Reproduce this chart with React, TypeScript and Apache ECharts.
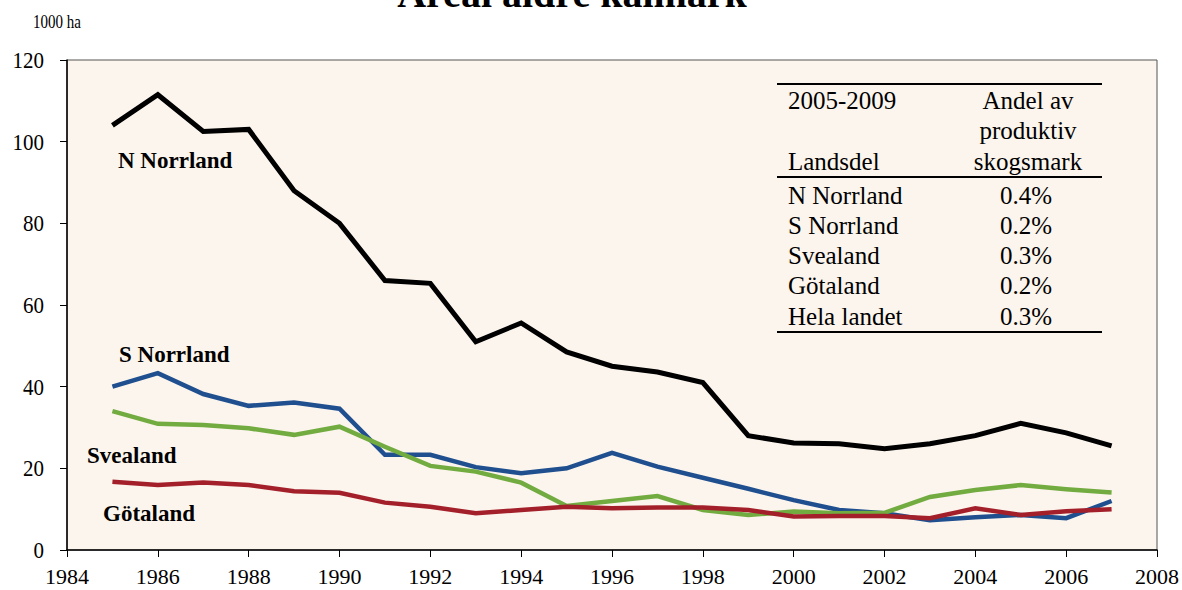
import React, { useEffect, useRef } from "react";
import * as echarts from "echarts";

const years = [1985, 1986, 1987, 1988, 1989, 1990, 1991, 1992, 1993, 1994, 1995, 1996, 1997, 1998, 1999, 2000, 2001, 2002, 2003, 2004, 2005, 2006, 2007];
const nNorrland = [104, 111.5, 102.5, 103, 88, 80, 66, 65.3, 51, 55.6, 48.5, 45, 43.6, 41, 28, 26.2, 26, 24.8, 26, 28, 31, 28.7, 25.5];
const sNorrland = [40, 43.3, 38.2, 35.3, 36.1, 34.6, 23.3, 23.3, 20.3, 18.8, 20, 23.8, 20.4, 17.7, 15, 12.2, 9.8, 9, 7.3, 8, 8.6, 7.8, 12];
const svealand = [34, 30.9, 30.6, 29.8, 28.2, 30.2, 25.3, 20.6, 19.2, 16.5, 10.8, 12, 13.2, 9.8, 8.6, 9.4, 9, 9.1, 13, 14.7, 15.9, 14.9, 14.1];
const gotaland = [16.7, 15.9, 16.5, 15.9, 14.4, 14, 11.6, 10.6, 9, 9.8, 10.6, 10.2, 10.4, 10.4, 9.8, 8.2, 8.3, 8.3, 7.8, 10.2, 8.6, 9.5, 10];

const xTickLabels = [1984, 1986, 1988, 1990, 1992, 1994, 1996, 1998, 2000, 2002, 2004, 2006, 2008];
const yTickLabels = [0, 20, 40, 60, 80, 100, 120];

const seriesNames = ["N Norrland", "S Norrland", "Svealand", "Götaland"];
const seriesColors = ["#000000", "#1f4f8f", "#72ab40", "#a3202b"];
const seriesWidths = [5, 4.5, 4.5, 4.5];

const tableHeaderLeft = ["2005-2009", "Landsdel"];
const tableHeaderRight = ["Andel av", "produktiv", "skogsmark"];
const tableRegions = ["N Norrland", "S Norrland", "Svealand", "Götaland", "Hela landet"];
const tableShares = ["0.4%", "0.2%", "0.3%", "0.2%", "0.3%"];

const title = "Areal äldre kalmark";
const unitLabel = "1000 ha";

const FF = "Liberation Serif";

export default function App() {
  const ref = useRef<HTMLDivElement>(null);
  useEffect(() => {
    if (!ref.current) return;
    const chart = echarts.init(ref.current, null, { renderer: "svg" });
    const allSeries = [nNorrland, sNorrland, svealand, gotaland];

    const labelPos = [
      { x: 118, y: 160 },
      { x: 119, y: 354 },
      { x: 87, y: 455 },
      { x: 103, y: 513 },
    ];

    const txt = (text: string, x: number, y: number, size: number, align: string, bold = false, scaleY = 1) => ({
      type: "text",
      x,
      y,
      z: 100,
      scaleY,
      style: {
        text,
        fontFamily: FF,
        fontSize: size,
        fontWeight: bold ? "bold" : "normal",
        fill: "#000",
        align,
        verticalAlign: "middle",
      },
    });

    const graphics: any[] = [];
    graphics.push(txt(title, 572, -7, 40, "center", true));
    graphics.push(txt(unitLabel, 33, 22, 15, "left", false, 1.3));
    seriesNames.forEach((n, i) => {
      graphics.push(txt(n, labelPos[i].x, labelPos[i].y, 23, "left", true));
    });
    const tl = 777, tr = 1102;
    [84, 177, 332].forEach((y) => {
      graphics.push({ type: "line", z: 100, shape: { x1: tl, y1: y, x2: tr, y2: y }, style: { stroke: "#000", lineWidth: 2 } });
    });
    graphics.push(txt(tableHeaderLeft[0], 788, 100, 25, "left"));
    graphics.push(txt(tableHeaderLeft[1], 788, 161, 25, "left"));
    tableHeaderRight.forEach((t, i) => {
      graphics.push(txt(t, 1028, 100 + i * 30.5, 25, "center"));
    });
    tableRegions.forEach((t, i) => {
      graphics.push(txt(t, 788, 195 + i * 30.3, 25, "left"));
      graphics.push(txt(tableShares[i], 1026, 195 + i * 30.3, 25, "center"));
    });

    chart.setOption({
      animation: false,
      backgroundColor: "#ffffff",
      textStyle: { fontFamily: FF },
      grid: {
        left: 67,
        right: 25,
        top: 60,
        bottom: 40,
        show: true,
        backgroundColor: "#fcf5ed",
        borderColor: "#555",
        borderWidth: 1,
      },
      xAxis: {
        type: "value",
        min: 1984,
        max: 2008,
        interval: 2,
        splitLine: { show: false },
        axisLine: { show: true, lineStyle: { color: "#000", width: 1.5 } },
        axisTick: { show: true, inside: false, length: 7, lineStyle: { color: "#000" } },
        axisLabel: { show: false },
      },
      yAxis: {
        type: "value",
        min: 0,
        max: 120,
        interval: 20,
        splitLine: { show: false },
        axisLine: { show: true, lineStyle: { color: "#000", width: 1.5 } },
        axisTick: { show: true, inside: false, length: 7, lineStyle: { color: "#000" } },
        axisLabel: { show: false },
      },
      series: allSeries.map((vals, i) => ({
        type: "line",
        name: seriesNames[i],
        data: years.map((y, j) => [y, vals[j]]),
        showSymbol: false,
        symbol: "none",
        lineStyle: { color: seriesColors[i], width: seriesWidths[i], join: "miter" },
        itemStyle: { color: seriesColors[i] },
        z: 2 + i,
      })),
    });

    const tickTexts: any[] = [];
    xTickLabels.forEach((v) => {
      const p = chart.convertToPixel({ gridIndex: 0 }, [v, 0]) as number[];
      tickTexts.push(txt(String(v), p[0], p[1] + 26, 22, "center"));
    });
    yTickLabels.forEach((v) => {
      const p = chart.convertToPixel({ gridIndex: 0 }, [1984, v]) as number[];
      tickTexts.push(txt(String(v), p[0] - 23, p[1], 21, "right", false, 1.1));
    });

    chart.setOption({ graphic: [...graphics, ...tickTexts] });
    return () => chart.dispose();
  }, []);
  return <div ref={ref} style={{ position: "fixed", left: 0, top: 0, width: 1182, height: 590 }} />;
}
